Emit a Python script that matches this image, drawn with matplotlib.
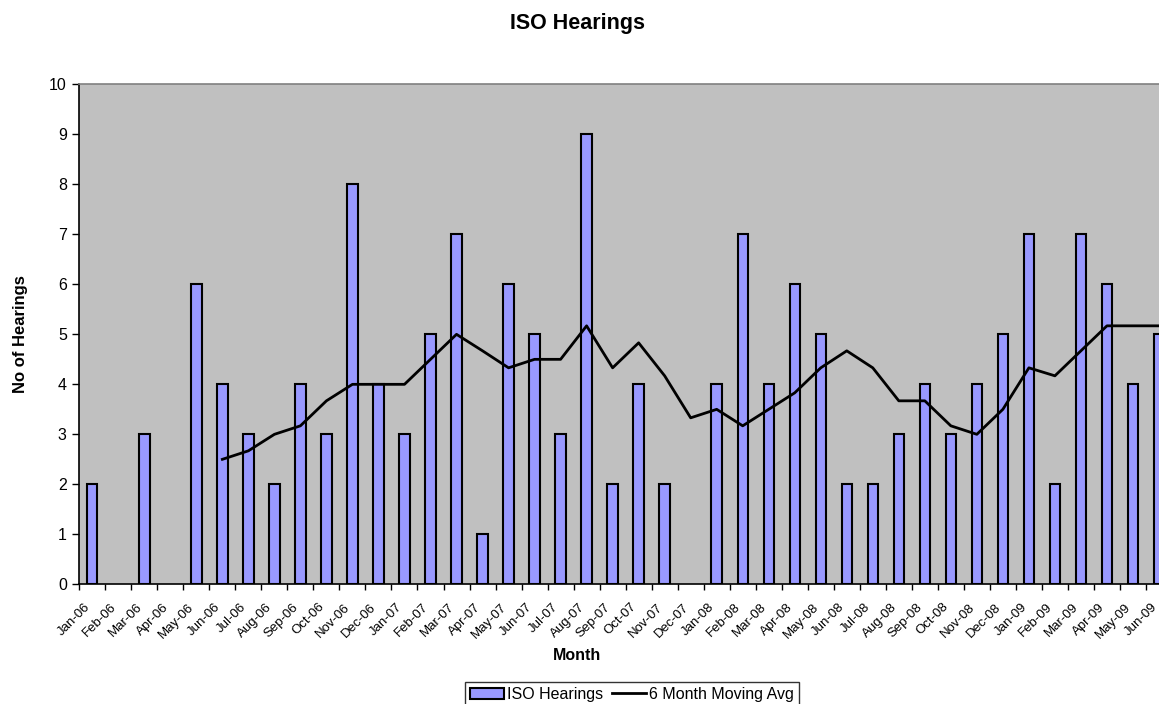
import numpy as np
import matplotlib
matplotlib.use('Agg')
import matplotlib.pyplot as plt
import matplotlib.transforms as mtransforms
from matplotlib.ticker import FixedLocator

plt.rcParams['font.family'] = ['Liberation Sans', 'DejaVu Sans']

# monthly hearings, Jan-06 .. Jun-09
months = ['Jan-06', 'Feb-06', 'Mar-06', 'Apr-06', 'May-06', 'Jun-06',
          'Jul-06', 'Aug-06', 'Sep-06', 'Oct-06', 'Nov-06', 'Dec-06',
          'Jan-07', 'Feb-07', 'Mar-07', 'Apr-07', 'May-07', 'Jun-07',
          'Jul-07', 'Aug-07', 'Sep-07', 'Oct-07', 'Nov-07', 'Dec-07',
          'Jan-08', 'Feb-08', 'Mar-08', 'Apr-08', 'May-08', 'Jun-08',
          'Jul-08', 'Aug-08', 'Sep-08', 'Oct-08', 'Nov-08', 'Dec-08',
          'Jan-09', 'Feb-09', 'Mar-09', 'Apr-09', 'May-09', 'Jun-09']
hearings = [2, 0, 3, 0, 6, 4, 3, 2, 4, 3, 8, 4,
            3, 5, 7, 1, 6, 5, 3, 9, 2, 4, 2, 0,
            4, 7, 4, 6, 5, 2, 2, 3, 4, 3, 4, 5,
            7, 2, 7, 6, 4, 5]
# 6 month moving average as drawn (starts at Jun-06)
avg_start = 5
moving_avg = [2.50, 2.67, 3.00, 3.17, 3.67, 4.00, 4.00, 4.00, 4.50, 5.00,
              4.67, 4.33, 4.50, 4.50, 5.17, 4.33, 4.83, 4.17, 3.33, 3.50,
              3.17, 3.50, 3.83, 4.33, 4.67, 4.33, 3.67, 3.67, 3.17, 3.00,
              3.50, 4.33, 4.17, 4.67, 5.17, 5.17, 5.17]

x = np.arange(len(months))
x_avg = np.arange(avg_start, avg_start + len(moving_avg))

fig = plt.figure(figsize=(11.59, 7.04), dpi=100)
# plot area runs past the right edge, like the cropped original
ax = fig.add_axes([0.0684, 0.170, 0.9428, 0.7102])
ax.set_facecolor('#C0C0C0')

bars = ax.bar(x, hearings, width=0.4, color='#9999FF', edgecolor='black',
              linewidth=1.5, label='ISO Hearings', zorder=2)
# empty months show nothing in the original (no flat outline)
for b, h in zip(bars, hearings):
    if h == 0:
        b.set_visible(False)
line, = ax.plot(x_avg, moving_avg, color='black', linewidth=2.0,
                label='6 Month Moving Avg', zorder=3)

ax.set_xlim(-0.5, len(months) - 0.5)
ax.set_ylim(0, 10)
ax.set_yticks(range(0, 11))
ax.tick_params(axis='y', labelsize=11.5, length=5, width=1, pad=4)

ax.set_xticks(x)
ax.set_xticklabels(months, rotation=45, ha='right', va='center',
                   rotation_mode='anchor', fontsize=9.5)
ax.xaxis.set_minor_locator(FixedLocator(np.arange(-0.5, len(months), 1)))
ax.tick_params(axis='x', which='major', length=0, pad=15)
ax.tick_params(axis='x', which='minor', length=4, width=1)
# nudge rotated labels a little left, as Excel draws them
shift = mtransforms.ScaledTranslation(-0.04, 0, fig.dpi_scale_trans)
for lbl in ax.get_xticklabels():
    lbl.set_transform(lbl.get_transform() + shift)

for side in ['left', 'bottom']:
    ax.spines[side].set_color('black')
    ax.spines[side].set_linewidth(1.2)
ax.spines['top'].set_color('#808080')
ax.spines['top'].set_linewidth(1.2)
ax.spines['right'].set_color('#808080')

ax.set_ylabel('No of Hearings', fontsize=12, fontweight='bold')
ax.yaxis.set_label_coords(-0.047, 0.5)
fig.text(577 / 1159, 1 - 655 / 704, 'Month', fontsize=11.5,
         fontweight='bold', ha='center', va='center')
fig.text(577 / 1159, 1 - 23 / 704, 'ISO Hearings', fontsize=15.5,
         fontweight='bold', ha='center', va='center')

leg = fig.legend(handles=[bars, line], loc='upper center',
                 bbox_to_anchor=(632 / 1159, 22 / 704),
                 ncol=2, fontsize=11.5, frameon=True, fancybox=False,
                 edgecolor='black', handlelength=2.1, handletextpad=0.2,
                 columnspacing=0.6, borderpad=0.3, borderaxespad=0)
leg.get_frame().set_linewidth(1.0)

fig.savefig('out.png', dpi=100)
